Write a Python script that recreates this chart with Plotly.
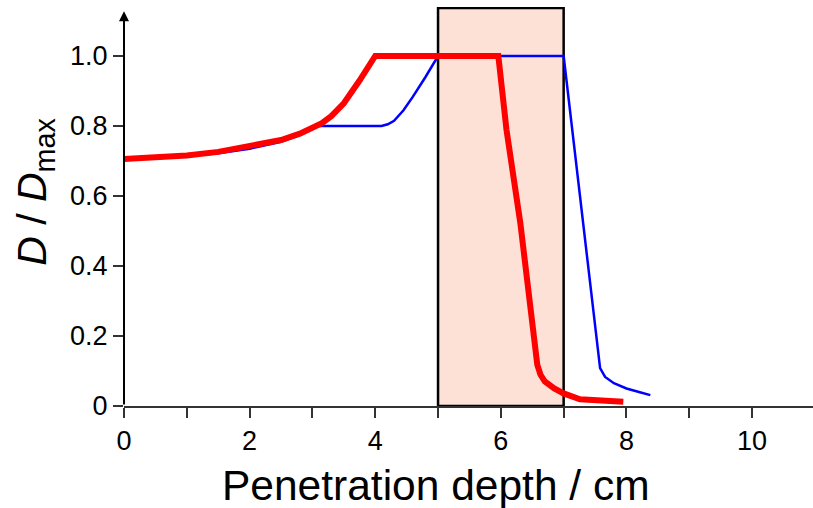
import plotly.graph_objects as go

# Blue curve (depth in cm, relative dose)
blue_x = [0, 0.5, 1, 1.5, 2, 2.5, 2.8, 3.0, 3.1, 4.1, 4.2, 4.3, 4.45, 4.6, 4.8, 5.0, 7.0, 7.58, 7.66, 7.8, 8.0, 8.2, 8.38]
blue_y = [0.705, 0.709, 0.714, 0.722, 0.735, 0.755, 0.775, 0.792, 0.8, 0.8, 0.805, 0.815, 0.845, 0.884, 0.94, 1.0, 1.0, 0.108, 0.083, 0.065, 0.05, 0.04, 0.031]

# Red curve
red_x = [0, 0.5, 1, 1.5, 2, 2.5, 2.8, 3.0, 3.15, 3.3, 3.5, 3.75, 4.0, 5.96, 6.09, 6.31, 6.47, 6.53, 6.58, 6.63, 6.7, 6.85, 7.0, 7.26, 7.6, 7.95]
red_y = [0.706, 0.71, 0.716, 0.726, 0.741, 0.76, 0.778, 0.794, 0.808, 0.828, 0.865, 0.93, 1.0, 1.0, 0.789, 0.523, 0.266, 0.17, 0.118, 0.09, 0.07, 0.05, 0.036, 0.019, 0.014, 0.012]

# Target region
region_x = [5, 7]
region_top = 1.137

x_ticks = [0, 2, 4, 6, 8, 10]
y_ticks = [0, 0.2, 0.4, 0.6, 0.8, 1.0]
y_ticktext = ["0", "0.2", "0.4", "0.6", "0.8", "1.0"]

FONT = "Liberation Sans, Arial, sans-serif"

fig = go.Figure()
fig.add_trace(go.Scatter(x=blue_x, y=blue_y, mode="lines",
                         line=dict(color="#0000FF", width=2.5), showlegend=False))
fig.add_trace(go.Scatter(x=red_x, y=red_y, mode="lines",
                         line=dict(color="#FF0000", width=6), showlegend=False))

fig.add_shape(type="rect", xref="x", yref="y", x0=region_x[0], x1=region_x[1],
              y0=0, y1=region_top, fillcolor="#FDE1D6",
              line=dict(color="black", width=2.5), layer="below")

# y-axis line with arrow
fig.add_annotation(x=0, y=1.128, ax=0, ay=0, xref="x", yref="y", axref="x", ayref="y",
                   text="", showarrow=True, arrowhead=2, arrowsize=1, arrowwidth=2,
                   arrowcolor="black")

fig.add_annotation(text="<i>D</i> / <i>D</i><sub>max</sub>", xref="paper", yref="paper",
                   x=-0.129, y=0.537, xanchor="center", yanchor="middle",
                   textangle=-90, showarrow=False,
                   font=dict(family=FONT, size=41, color="black"))

fig.add_annotation(text="Penetration depth / cm", xref="paper", yref="paper",
                   x=0.453, y=-0.198, xanchor="center", yanchor="middle",
                   showarrow=False,
                   font=dict(family=FONT, size=42.5, color="black"))

fig.update_layout(
    width=813, height=508,
    margin=dict(l=124, r=0, t=7, b=102),
    plot_bgcolor="white", paper_bgcolor="white",
    xaxis=dict(range=[0, 10.97], showgrid=False, zeroline=False, automargin=False,
               showline=True, linecolor="#333333", linewidth=2,
               tickmode="array", tickvals=x_ticks, ticks="outside", ticklen=10,
               tickwidth=1.5, tickcolor="#333333",
               minor=dict(dtick=1, tick0=0, ticks="outside", ticklen=10, tickwidth=1.5, tickcolor="#333333"),
               tickfont=dict(family=FONT, size=27, color="black")),
    yaxis=dict(range=[0, 1.14], showgrid=False, zeroline=False, showline=False, automargin=False,
               tickmode="array", tickvals=y_ticks, ticktext=y_ticktext,
               ticks="outside", ticklen=10, tickwidth=1.5, tickcolor="#333333",
               tickfont=dict(family=FONT, size=27, color="black")),
)

fig.write_html("out.html", config={"displayModeBar": False},
               post_script="document.body.style.margin='0';")
